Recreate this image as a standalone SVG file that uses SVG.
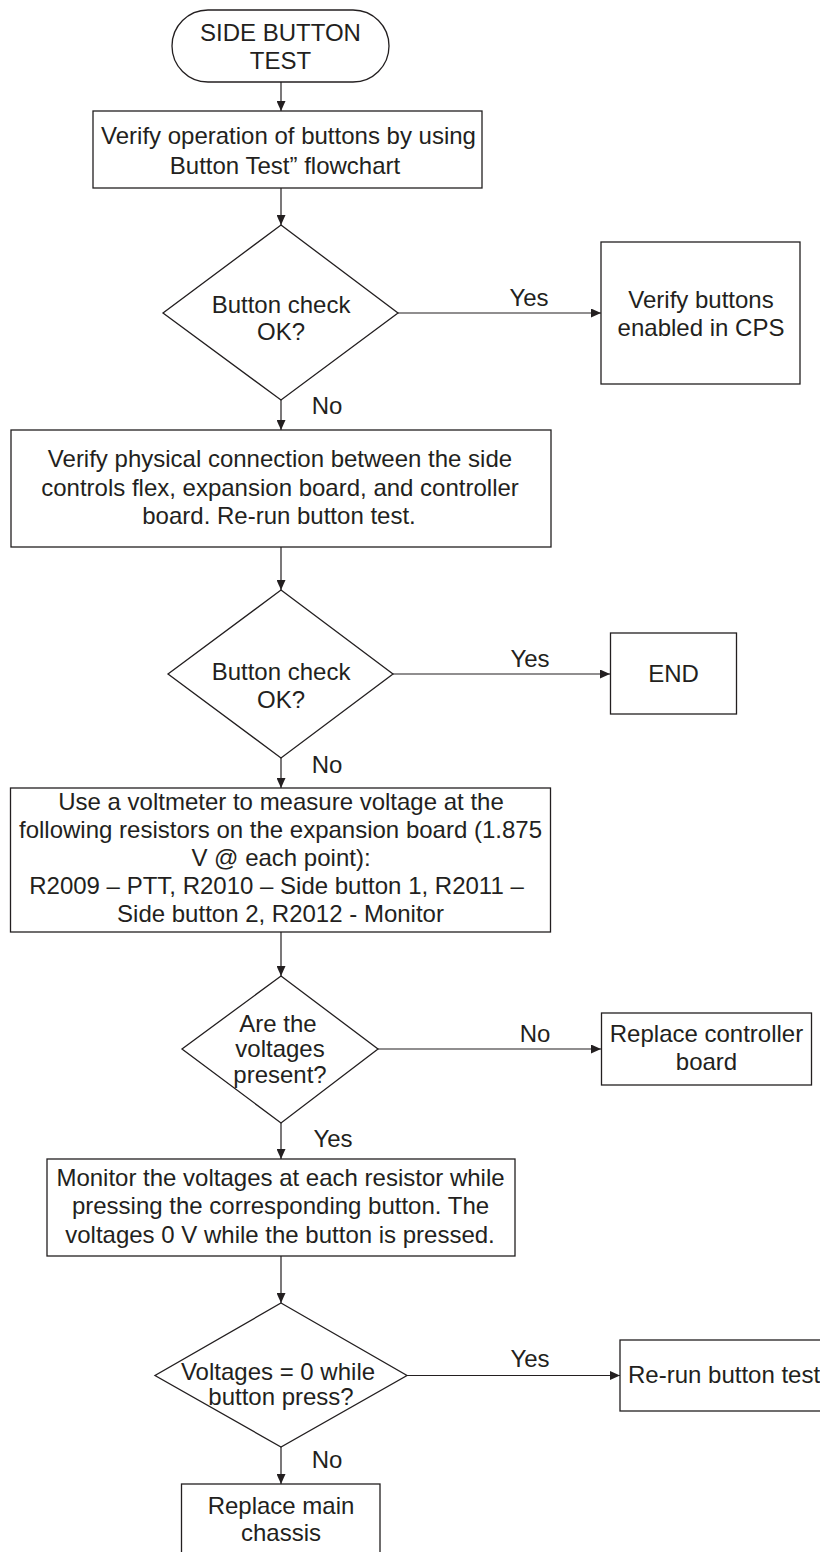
<svg xmlns="http://www.w3.org/2000/svg" width="820" height="1552" viewBox="0 0 820 1552">
<defs>
<style>
.n{fill:#fff;stroke:#231f20;stroke-width:1.3}
.t{font-family:"Liberation Sans",Arial,sans-serif;font-size:24px;fill:#231f20;text-anchor:middle}
.s{text-anchor:start}
.e{fill:none;stroke:#231f20;stroke-width:1.2}
</style>
<marker id="ah" markerWidth="10" markerHeight="9" refX="10" refY="4.5" orient="auto" markerUnits="userSpaceOnUse">
<path d="M0,0 L10,4.5 L0,9 z" fill="#231f20"/>
</marker>
</defs>
<rect width="820" height="1552" fill="#fff"/>

<g id="connectors">
<line class="e" x1="281" y1="82" x2="281" y2="111" marker-end="url(#ah)"/>
<line class="e" x1="281" y1="188" x2="281" y2="225" marker-end="url(#ah)"/>
<line class="e" x1="398" y1="313" x2="601" y2="313" marker-end="url(#ah)"/>
<line class="e" x1="281" y1="400" x2="281" y2="430" marker-end="url(#ah)"/>
<line class="e" x1="281" y1="547" x2="281" y2="590" marker-end="url(#ah)"/>
<line class="e" x1="393" y1="674" x2="610" y2="674" marker-end="url(#ah)"/>
<line class="e" x1="281" y1="758" x2="281" y2="788" marker-end="url(#ah)"/>
<line class="e" x1="281" y1="932" x2="281" y2="976" marker-end="url(#ah)"/>
<line class="e" x1="378" y1="1049" x2="601" y2="1049" marker-end="url(#ah)"/>
<line class="e" x1="281" y1="1123" x2="281" y2="1159" marker-end="url(#ah)"/>
<line class="e" x1="281" y1="1256" x2="281" y2="1303" marker-end="url(#ah)"/>
<line class="e" x1="407" y1="1375.5" x2="620" y2="1375.5" marker-end="url(#ah)"/>
<line class="e" x1="281" y1="1447" x2="281" y2="1484" marker-end="url(#ah)"/>
<text class="t" x="529" y="306">Yes</text>
<text class="t" x="327" y="414">No</text>
<text class="t" x="530" y="667">Yes</text>
<text class="t" x="327" y="773">No</text>
<text class="t" x="535" y="1042">No</text>
<text class="t" x="333" y="1147">Yes</text>
<text class="t" x="530" y="1367">Yes</text>
<text class="t" x="327" y="1468">No</text>
</g>

<g id="start">
<rect class="n" x="172" y="10" width="217" height="72" rx="36" ry="36"/>
<text class="t" x="280.5" y="41">SIDE BUTTON</text>
<text class="t" x="280.5" y="69">TEST</text>
</g>

<g id="verify-operation">
<rect class="n" x="93" y="111" width="389" height="77"/>
<text class="t" x="288.5" y="144">Verify operation of buttons by using</text>
<text class="t" x="285" y="174">Button Test” flowchart</text>
</g>

<g id="check1">
<polygon class="n" points="281,225 398,313 281,400 163,313"/>
<text class="t" x="281" y="313">Button check</text>
<text class="t" x="281" y="340">OK?</text>
</g>

<g id="verify-cps">
<rect class="n" x="601" y="242" width="199" height="142"/>
<text class="t" x="701" y="308">Verify buttons</text>
<text class="t" x="701" y="336">enabled in CPS</text>
</g>

<g id="verify-physical">
<rect class="n" x="11" y="430" width="540" height="117"/>
<text class="t" x="280" y="467">Verify physical connection between the side</text>
<text class="t" x="280" y="496">controls flex, expansion board, and controller</text>
<text class="t" x="279" y="524">board. Re-run button test.</text>
</g>

<g id="check2">
<polygon class="n" points="281,590 393,674 281,758 168,674"/>
<text class="t" x="281" y="680">Button check</text>
<text class="t" x="281" y="708">OK?</text>
</g>

<g id="end">
<rect class="n" x="610.5" y="633" width="126" height="81"/>
<text class="t" x="673.5" y="682">END</text>
</g>

<g id="voltmeter">
<rect class="n" x="10.5" y="788" width="540" height="144"/>
<text class="t" x="281" y="810">Use a voltmeter to measure voltage at the</text>
<text class="t" x="280.5" y="838">following resistors on the expansion board (1.875</text>
<text class="t" x="281" y="866">V @ each point):</text>
<text class="t" x="276.5" y="894">R2009 – PTT, R2010 – Side button 1, R2011 –</text>
<text class="t" x="280.5" y="922">Side button 2, R2012 - Monitor</text>
</g>

<g id="check3">
<polygon class="n" points="281,976 378,1049 281,1123 182,1049"/>
<text class="t" x="278" y="1032">Are the</text>
<text class="t" x="280" y="1057">voltages</text>
<text class="t" x="280" y="1083">present?</text>
</g>

<g id="replace-controller">
<rect class="n" x="601.5" y="1013" width="210" height="72"/>
<text class="t" x="706.5" y="1042">Replace controller</text>
<text class="t" x="706.5" y="1070">board</text>
</g>

<g id="monitor">
<rect class="n" x="47" y="1159" width="468" height="97"/>
<text class="t" x="280.5" y="1186">Monitor the voltages at each resistor while</text>
<text class="t" x="280.5" y="1214">pressing the corresponding button. The</text>
<text class="t" x="280" y="1243">voltages 0 V while the button is pressed.</text>
</g>

<g id="check4">
<polygon class="n" points="281,1303 407,1375.5 281,1447 155,1375.5"/>
<text class="t" x="278" y="1380">Voltages = 0 while</text>
<text class="t" x="281" y="1405">button press?</text>
</g>

<g id="rerun">
<rect class="n" x="620" y="1340" width="220" height="71"/>
<text class="t s" x="628" y="1383">Re-run button test</text>
</g>

<g id="replace-main">
<rect class="n" x="181.5" y="1484" width="198.5" height="90"/>
<text class="t" x="281" y="1514">Replace main</text>
<text class="t" x="281" y="1541">chassis</text>
</g>
</svg>
